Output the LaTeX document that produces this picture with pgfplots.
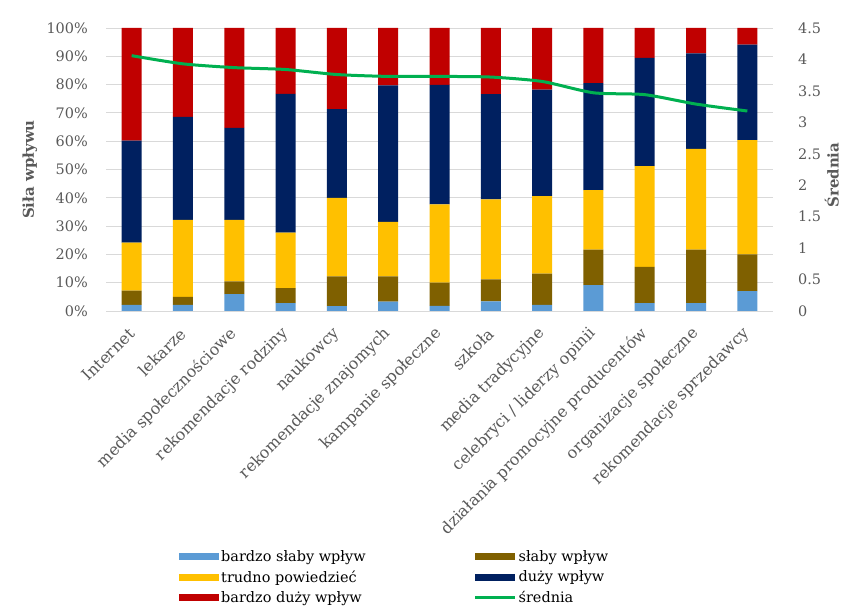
\documentclass[border=0pt]{standalone}
\usepackage{pgfplots}
\pgfplotsset{compat=1.18}
\usepackage{fontspec}
\setmainfont{DejaVu Serif}
\definecolor{cblue}{HTML}{5B9BD5}
\definecolor{cbrown}{HTML}{7F6000}
\definecolor{cyellow}{HTML}{FFC000}
\definecolor{cnavy}{HTML}{002060}
\definecolor{cred}{HTML}{C00000}
\definecolor{cgreen}{HTML}{00B050}
\definecolor{cgrid}{HTML}{D9D9D9}
\definecolor{ctext}{HTML}{595959}
\pgfplotstableread{
x a b c d e s
0 2.2 5.0 17.0 36.0 39.8 4.06
1 2.2 2.8 27.2 36.4 31.4 3.93
2 6.0 4.5 21.7 32.5 35.3 3.87
3 2.8 5.3 19.6 49.0 23.3 3.84
4 1.7 10.5 27.8 31.3 28.7 3.76
5 3.3 8.9 19.3 48.2 20.3 3.73
6 1.8 8.2 27.7 42.2 20.1 3.73
7 3.4 7.8 28.2 37.2 23.4 3.72
8 2.2 11.0 27.4 37.6 21.8 3.65
9 9.1 12.6 21.0 37.8 19.5 3.47
10 2.8 12.8 35.6 38.2 10.6 3.44
11 2.8 18.9 35.6 33.7 9.0 3.29
12 7.0 13.0 40.4 33.7 5.9 3.18
}\data
\begin{document}
\begin{tikzpicture}
\useasboundingbox (0,0) rectangle (841bp,608bp);
\pgfplotsset{
  base/.style={
    at={(106bp,297bp)}, anchor=south west,
    scale only axis, width=667bp, height=283bp,
    xmin=-0.5, xmax=12.5,
    major tick length=0pt,
    /pgf/number format/assume math mode=true,
    tick label style={font=\fontsize{14.5}{17}\selectfont, text=ctext},
  }
}
\begin{axis}[
  base,
  ybar stacked, bar width=20bp,
  ymin=0, ymax=100,
  ytick={0,10,...,100},
  yticklabel={\pgfmathprintnumber{\tick}\%},
  yticklabel style={inner sep=0pt},
  yticklabel shift=18bp,
  ymajorgrids, grid style={cgrid, line width=0.8bp},
  axis x line*=bottom, axis y line*=left,
  x axis line style={cgrid, line width=0.8bp},
  y axis line style={draw=none},
  xtick={0,...,12},
  xticklabels={Internet, lekarze, media społecznościowe, rekomendacje rodziny, naukowcy, rekomendacje znajomych, kampanie społeczne, szkoła, media tradycyjne, celebryci / liderzy opinii, działania promocyjne producentów, organizacje społeczne, rekomendacje sprzedawcy},
  xticklabel style={rotate=45, anchor=east, inner sep=0pt, font=\fontsize{16}{18}\selectfont},
  xticklabel shift=20bp,
  ylabel={Siła wpływu},
  ylabel style={at={(axis description cs:-0.114,0.5)}, anchor=center, font=\fontsize{15}{18}\selectfont\bfseries, text=ctext},
  legend columns=2,
  legend cell align=left,
  legend style={at={(axis description cs:0.105,-0.83)}, anchor=north west, draw=none, fill=none,
    font=\fontsize{14.5}{17}\selectfont, row sep=4bp,
    /tikz/every even column/.append style={column sep=106bp}},
  legend image code/.code={\fill[#1] (0bp,-3.5bp) rectangle (40bp,3.5bp);},
]
\addplot[fill=cblue, draw=none] table[x=x,y=a]{\data};
\addplot[fill=cbrown, draw=none] table[x=x,y=b]{\data};
\addplot[fill=cyellow, draw=none] table[x=x,y=c]{\data};
\addplot[fill=cnavy, draw=none] table[x=x,y=d]{\data};
\addplot[fill=cred, draw=none] table[x=x,y=e]{\data};
\addlegendentry{bardzo słaby wpływ}
\addlegendentry{słaby wpływ}
\addlegendentry{trudno powiedzieć}
\addlegendentry{duży wpływ}
\addlegendentry{bardzo duży wpływ}
\addlegendimage{legend image code/.code={\draw[cgreen, line width=3bp] (0bp,0bp) -- (40bp,0bp);}}
\addlegendentry{średnia}
\end{axis}
\begin{axis}[
  base,
  ymin=0, ymax=4.5,
  ytick={0,0.5,...,4.5},
  axis x line=none,
  axis y line*=right,
  y axis line style={draw=none},
  yticklabel style={inner sep=0pt, anchor=west},
  yticklabel shift=25bp,
  ylabel={Średnia},
  ylabel style={at={(axis description cs:1.088,0.48)}, anchor=center, font=\fontsize{15}{18}\selectfont\bfseries, text=ctext},
]
\addplot[smooth, tension=0.4, cgreen, line width=3bp] table[x=x,y=s]{\data};
\end{axis}
\end{tikzpicture}
\end{document}
